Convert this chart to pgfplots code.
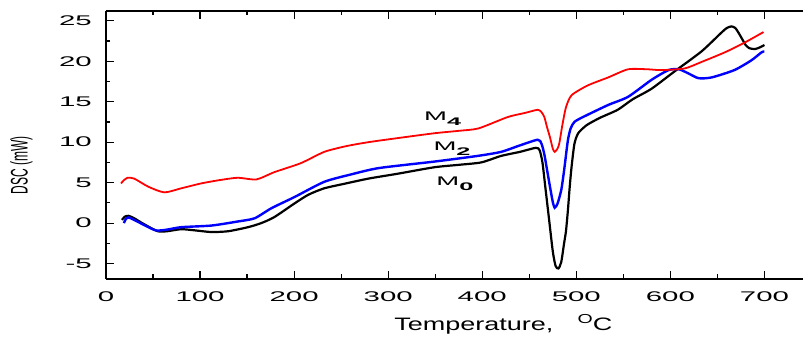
\documentclass[border=0pt]{standalone}
\usepackage{fontspec}
\setmainfont{Liberation Sans}
\usepackage{graphicx}
\usepackage{pgfplots}
\pgfplotsset{compat=1.18}
\newcommand{\Mlab}[1]{\scalebox{2.2}[1]{\fontsize{12.5}{13}\selectfont M}\raisebox{-5pt}{\scalebox{2.3}[1]{\fontsize{11}{12}\selectfont\bfseries #1}}}
\begin{document}
\begin{tikzpicture}
\begin{axis}[
  width=697pt, height=268pt, scale only axis,
  xmin=0, xmax=741, ymin=-6.9, ymax=26.2,
  axis x line*=box, axis y line*=left,
  x axis line style={line width=1.4pt},
  y axis line style={line width=2.6pt},
  xtick={0,100,...,700}, minor x tick num=1,
  ytick={-5,0,...,25}, minor y tick num=1,
  tick align=inside,
  tick style={black, line width=1.2pt},
  major tick length=8pt, minor tick length=4.5pt,
  /pgf/number format/assume math mode=true,
  xticklabel={\scalebox{2.1}[1]{\fontsize{14}{14}\selectfont\pgfmathprintnumber{\tick}}},
  yticklabel={\scalebox{2.1}[1]{\fontsize{14}{14}\selectfont\pgfmathprintnumber{\tick}}},
  xticklabel style={inner sep=0pt, anchor=north, yshift=-13pt},
  yticklabel style={inner sep=0pt, anchor=east, xshift=-14pt},
  xlabel={\scalebox{1.5}[1]{\fontsize{18}{18}\selectfont Temperature,\hspace{0.9em}\raisebox{6.5pt}{\fontsize{13}{13}\selectfont O}C}},
  xlabel style={at={(axis description cs:0.570,-0.1903)}, anchor=base, inner sep=0pt},
  ylabel={\scalebox{1}[2]{\fontsize{12}{12}\selectfont DSC (mW)}},
  ylabel style={at={(axis description cs:-0.1212,0.425)}, anchor=center, inner sep=0pt},
  clip=false,
]
% M0 black
\addplot[black, line width=2.2pt, smooth, tension=0.4] coordinates {
(17,0.4)(20,0.8)(24,0.9)(30,0.6)(40,-0.1)(55,-1.0)(65,-1.0)(80,-0.75)(95,-0.9)(112,-1.1)(130,-1.0)(151,-0.5)(165,0)(179,0.75)(200,2.4)(215,3.5)(232,4.3)(255,4.9)(279,5.5)(310,6.1)(349,6.9)(375,7.2)(399,7.5)(420,8.3)(440,8.8)(457,9.3)(461,9.0)(464,7.5)(467,4.5)(471,0.5)(475,-3.5)(478,-5.3)(481,-5.6)(484,-4.8)(487,-2.5)(489,-1.0)(491,1.5)(493,4.5)(495,7)(498,9.8)(502,11.1)(511,12.1)(525,13)(544,14)(560,15.3)(580,16.6)(604,18.7)(633,21.2)(654,23.5)(660,24.1)(665,24.3)(669,24.1)(672,23.6)(676,22.8)(680,22.0)(684,21.6)(690,21.5)(695,21.7)(700,22.0)
};
% M2 blue
\addplot[blue, line width=2.4pt, smooth, tension=0.4] coordinates {
(19,0)(21,0.5)(24,0.7)(30,0.4)(40,-0.2)(53,-0.9)(65,-0.8)(80,-0.5)(112,-0.3)(140,0.2)(158,0.6)(176,1.85)(200,3.2)(232,5.1)(260,6.0)(290,6.8)(349,7.6)(395,8.3)(420,8.8)(440,9.6)(459,10.3)(463,9.8)(466,8.5)(469,6.5)(472,4.5)(475,2.6)(477,1.9)(480,2.4)(484,4.1)(487,6.5)(491,10.2)(494,11.7)(498,12.5)(507,13.1)(534,14.6)(555,15.6)(580,17.7)(598,18.9)(609,19.0)(619,18.5)(630,17.9)(644,18.0)(668,18.9)(686,20.1)(697,21.1)(700,21.2)
};
% M4 red
\addplot[red, line width=1.8pt, smooth, tension=0.4] coordinates {
(16,4.9)(19,5.3)(23,5.6)(30,5.5)(45,4.5)(62,3.8)(80,4.3)(101,4.9)(120,5.3)(140,5.6)(160,5.4)(179,6.3)(207,7.4)(232,8.8)(255,9.5)(279,10)(310,10.5)(349,11.1)(375,11.4)(396,11.7)(427,13.1)(445,13.6)(459,14.0)(463,13.7)(466,13.1)(469,11.8)(472,10.6)(475,9.2)(477,8.8)(480,9.2)(482,9.9)(485,12)(489,14.3)(495,15.8)(512,17)(534,18)(555,19)(576,19)(590,18.9)(615,19.1)(633,19.9)(658,21.1)(679,22.3)(699,23.6)
};
\node[anchor=base west, inner sep=0pt] at (axis cs:338,12.7) {\Mlab{4}};
\node[anchor=base west, inner sep=0pt] at (axis cs:348,9.0) {\Mlab{2}};
\node[anchor=base west, inner sep=0pt] at (axis cs:351,4.7) {\Mlab{0}};
\end{axis}
\pgfresetboundingbox
\path ([xshift=-106pt,yshift=-62pt]current axis.south west) rectangle ([yshift=11pt]current axis.north east);
\end{tikzpicture}
\end{document}
